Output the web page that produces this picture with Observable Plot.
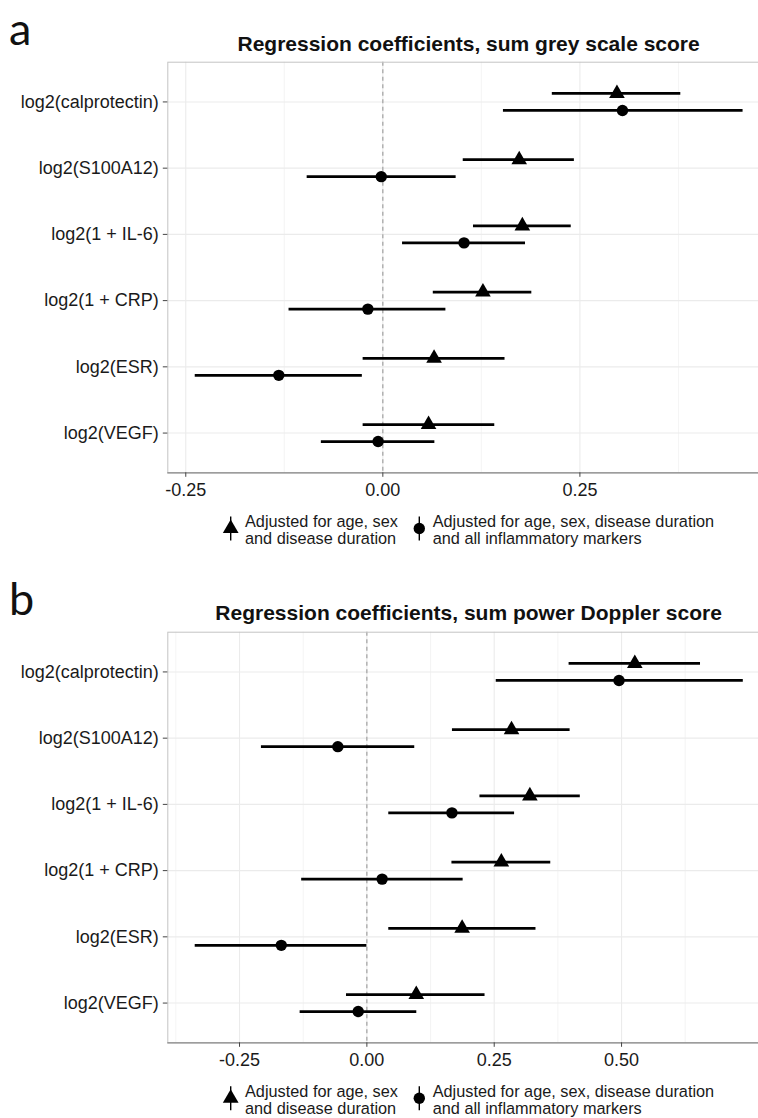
<!DOCTYPE html>
<html><head><meta charset="utf-8">
<script src="https://cdn.jsdelivr.net/npm/d3@7"></script>
<script src="https://cdn.jsdelivr.net/npm/@observablehq/plot@0.6"></script>
<style>
html,body{margin:0;padding:0;background:#fff;}
#page{position:relative;width:758px;height:1118px;overflow:hidden;background:#fff;}
.panel{position:absolute;left:0;width:777px;}
#overlay{position:absolute;left:0;top:0;}
</style>
</head><body>
<div id="page"></div>
<script>
const categories = ["log2(calprotectin)","log2(S100A12)","log2(1 + IL-6)","log2(1 + CRP)","log2(ESR)","log2(VEGF)"];
const seriesNames = ["Adjusted for age, sex\nand disease duration","Adjusted for age, sex, disease duration\nand all inflammatory markers"];

// Panel a: sum grey scale score
const aTriEst = [0.297, 0.173, 0.177, 0.127, 0.065, 0.058];
const aTriLo  = [0.215, 0.102, 0.115, 0.064, -0.025, -0.025];
const aTriHi  = [0.378, 0.243, 0.239, 0.189, 0.155, 0.142];
const aCirEst = [0.304, -0.002, 0.103, -0.019, -0.132, -0.006];
const aCirLo  = [0.153, -0.096, 0.025, -0.119, -0.238, -0.078];
const aCirHi  = [0.457, 0.093, 0.181, 0.080, -0.026, 0.066];
const aTicks = [-0.25, 0, 0.25];
const aMinor = [-0.125, 0.125, 0.375];
const aDomain = [-0.2728, 0.4918];

// Panel b: sum power Doppler score
const bTriEst = [0.526, 0.284, 0.320, 0.264, 0.187, 0.097];
const bTriLo  = [0.397, 0.168, 0.222, 0.167, 0.043, -0.040];
const bTriHi  = [0.655, 0.399, 0.419, 0.361, 0.332, 0.232];
const bCirEst = [0.495, -0.057, 0.167, 0.030, -0.168, -0.017];
const bCirLo  = [0.254, -0.207, 0.043, -0.128, -0.337, -0.131];
const bCirHi  = [0.739, 0.094, 0.290, 0.189, 0.000, 0.098];
const bTicks = [-0.25, 0, 0.25, 0.5];
const bMinor = [-0.375, -0.125, 0.125, 0.375, 0.625];
const bDomain = [-0.3908, 0.7924];

const titles = ["Regression coefficients, sum grey scale score","Regression coefficients, sum power Doppler score"];
const panelLetters = ["a","b"];

const FONT = '"Liberation Sans", Arial, sans-serif';
const n = categories.length;
const positions = categories.map((c,i)=>n-i);
const DODGE = 8.5;

function rows(est, lo, hi){
  return categories.map((c,i)=>({cat:c, pos:n-i, est:est[i], lo:lo[i], hi:hi[i]}));
}

function makePanel(tri, cir, domain, ticks, minor){
  return Plot.plot({
    width: 777, height: 500,
    marginLeft: 167.3, marginRight: 7, marginTop: 61.7, marginBottom: 27.7,
    x: {domain, axis: null},
    y: {domain: [0.4, n + 0.6], axis: null},
    style: {fontFamily: FONT, fontSize: "18px", color: "#1a1a1a", background: "white", overflow: "visible"},
    marks: [
      Plot.gridX(minor, {stroke: "#efefef", strokeOpacity: 1, strokeWidth: 0.7}),
      Plot.gridX(ticks, {stroke: "#ebebeb", strokeOpacity: 1, strokeWidth: 1.1}),
      Plot.gridY(positions, {stroke: "#ebebeb", strokeOpacity: 1, strokeWidth: 1.1}),
      Plot.ruleX([0], {stroke: "#9a9a9a", strokeWidth: 1.1, strokeDasharray: "4,3.5"}),
      Plot.frame({stroke: "#c4c4c4", strokeWidth: 1}),
      Plot.ruleY(tri, {y: "pos", x1: "lo", x2: "hi", dy: -DODGE, stroke: "black", strokeWidth: 2.8}),
      Plot.ruleY(cir, {y: "pos", x1: "lo", x2: "hi", dy: DODGE, stroke: "black", strokeWidth: 2.8}),
      Plot.dot(tri, {x: "est", y: "pos", dy: -DODGE, symbol: "triangle", r: 5.8, fill: "black", stroke: "none"}),
      Plot.dot(cir, {x: "est", y: "pos", dy: DODGE, symbol: "circle", r: 5.7, fill: "black", stroke: "none"}),
      Plot.ruleY([0.4], {stroke: "#8a8a8a", strokeWidth: 1.3}),
      Plot.axisX({ticks, tickFormat: d => d.toFixed(2), tickSize: 4.5, tickPadding: 5.7, label: null, stroke: "#444", fill: "#1a1a1a"}),
      Plot.axisY({ticks: positions, tickFormat: d => categories[n - d], tickSize: 4.5, tickPadding: 4.5, label: null, stroke: "#444", fill: "#1a1a1a"})
    ]
  });
}

const page = document.getElementById("page");
const panels = [
  {tri: rows(aTriEst,aTriLo,aTriHi), cir: rows(aCirEst,aCirLo,aCirHi), domain: aDomain, ticks: aTicks, minor: aMinor},
  {tri: rows(bTriEst,bTriLo,bTriHi), cir: rows(bCirEst,bCirLo,bCirHi), domain: bDomain, ticks: bTicks, minor: bMinor}
];
const SHIFT = 569.8;
panels.forEach((p,k)=>{
  const div = document.createElement("div");
  div.className = "panel";
  div.style.top = (k*SHIFT) + "px";
  div.appendChild(makePanel(p.tri, p.cir, p.domain, p.ticks, p.minor));
  page.appendChild(div);
});

// overlay: panel letters, titles, legends
const svg = d3.select(page).append("svg").attr("id","overlay").attr("width",758).attr("height",1118);
panels.forEach((p,k)=>{
  const oy = k*SHIFT;
  svg.append("text").attr("x",9).attr("y",45+oy).attr("font-family","Lato, 'Open Sans', sans-serif")
     .attr("font-size",45).attr("fill","#111").text(panelLetters[k]);
  svg.append("text").attr("x",468.6).attr("y",50.5+oy).attr("text-anchor","middle")
     .attr("font-family",FONT).attr("font-weight","bold").attr("font-size",21).attr("fill","#111").text(titles[k]);
  const keys = [{x:230.7, tx:245, sym:d3.symbolTriangle, size:107},{x:419.3, tx:432.7, sym:d3.symbolCircle, size:Math.PI*5.7*5.7}];
  keys.forEach((kk,j)=>{
    const cy = 528.5+oy;
    svg.append("line").attr("x1",kk.x).attr("x2",kk.x).attr("y1",cy-12).attr("y2",cy+12).attr("stroke","black").attr("stroke-width",1.4);
    svg.append("path").attr("d",d3.symbol(kk.sym, kk.size)()).attr("transform",`translate(${kk.x},${cy})`).attr("fill","black");
    const t = svg.append("text").attr("font-family",FONT).attr("font-size",16.3).attr("fill","#1a1a1a");
    seriesNames[j].split("\n").forEach((line,li)=>{
      t.append("tspan").attr("x",kk.tx).attr("y",526.7+li*17.3+oy).text(line);
    });
  });
});
</script>
</body></html>
